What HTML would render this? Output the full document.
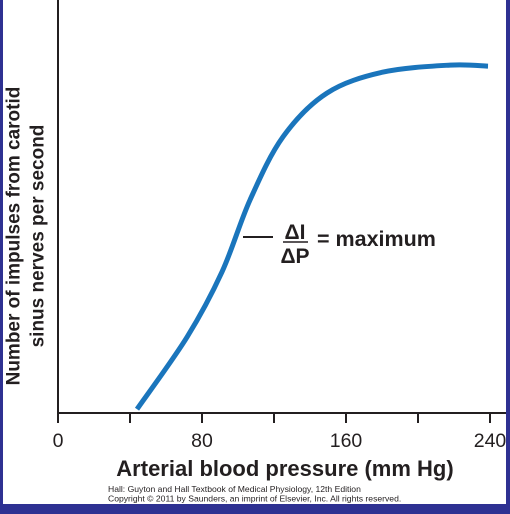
<!DOCTYPE html>
<html><head><meta charset="utf-8"><style>
html,body{margin:0;padding:0;background:#2e3192;}
svg{display:block;font-family:"Liberation Sans",Arial,sans-serif;}
</style></head><body>
<svg id="chart" width="510" height="514" viewBox="0 0 510 514">
<rect x="0" y="0" width="510" height="514" fill="#2e3192"/>
<rect x="3" y="0" width="503" height="504" fill="#ffffff"/>
<g id="axes"></g>
<path id="curve" fill="none" stroke="#1a75bc" stroke-width="5"/>
<text x="14" y="236" transform="rotate(-90 14 236)" text-anchor="middle" dominant-baseline="central" font-size="19" font-weight="bold" fill="#231f20">Number of impulses from carotid</text>
<text x="38" y="236" transform="rotate(-90 38 236)" text-anchor="middle" dominant-baseline="central" font-size="19" font-weight="bold" fill="#231f20">sinus nerves per second</text>
<text x="285" y="476" text-anchor="middle" font-size="22" font-weight="bold" fill="#231f20">Arterial blood pressure (mm Hg)</text>
<text x="108" y="492" font-size="8.6" fill="#231f20">Hall: Guyton and Hall Textbook of Medical Physiology, 12th Edition</text>
<text x="108" y="501.5" font-size="8.6" fill="#231f20">Copyright © 2011 by Saunders, an imprint of Elsevier, Inc. All rights reserved.</text>
<g>
<line x1="243" y1="237" x2="273" y2="237" stroke="#231f20" stroke-width="2"/>
<text x="295" y="239" text-anchor="middle" font-size="21" font-weight="bold" fill="#231f20">ΔI</text>
<line x1="283" y1="242" x2="308" y2="242" stroke="#231f20" stroke-width="1.5"/>
<text x="295" y="263" text-anchor="middle" font-size="21" font-weight="bold" fill="#231f20">ΔP</text>
<text x="317" y="246" font-size="21.5" font-weight="bold" fill="#231f20">= maximum</text>
</g>
</svg>
<script>
const pressures=[43.9,71.7,91.1,106.7,125,149.4,180.6,217.8,238.9];
const impulses=[1.1,21.7,40.3,60.9,78.9,91.4,97.4,99.4,99.1];
const xTicks=[0,40,80,120,160,200,240];
const xTickLabels=["0","","80","","160","","240"];
function xs(v){return 58+v*1.8;}
function ys(v){return 413-v*3.5;}
const ns="http://www.w3.org/2000/svg";
const ax=document.getElementById('axes');
function mk(t,a){const e=document.createElementNS(ns,t);for(const k in a)e.setAttribute(k,a[k]);return e;}
const yl=mk('line',{x1:58,y1:0,x2:58,y2:414,stroke:'#231f20','stroke-width':2});


ax.appendChild(yl);
const xl=mk('line',{x1:57,y1:413,x2:506,y2:413,stroke:'#231f20','stroke-width':2});


ax.appendChild(xl);
xTicks.forEach((t,i)=>{
 const tk=mk('line',{x1:xs(t),y1:413,x2:xs(t),y2:423,stroke:'#231f20','stroke-width':2});
 
 
 ax.appendChild(tk);
 if(xTickLabels[i]){
  const tx=mk('text',{x:xs(t),y:447,'text-anchor':'middle','font-size':19.5,fill:'#231f20'});
  tx.textContent=xTickLabels[i];
  
  
  ax.appendChild(tx);
 }
});
const P=pressures.map((p,i)=>[xs(p),ys(impulses[i])]);
let d='M'+P[0][0]+','+P[0][1];
for(let i=0;i<P.length-1;i++){
 const p0=P[Math.max(i-1,0)],p1=P[i],p2=P[i+1],p3=P[Math.min(i+2,P.length-1)];
 const c1=[p1[0]+(p2[0]-p0[0])/6,p1[1]+(p2[1]-p0[1])/6];
 const c2=[p2[0]-(p3[0]-p1[0])/6,p2[1]-(p3[1]-p1[1])/6];
 d+=' C'+c1.join(',')+' '+c2.join(',')+' '+p2.join(',');
}
document.getElementById('curve').setAttribute('d',d);
</script>
</body></html>
